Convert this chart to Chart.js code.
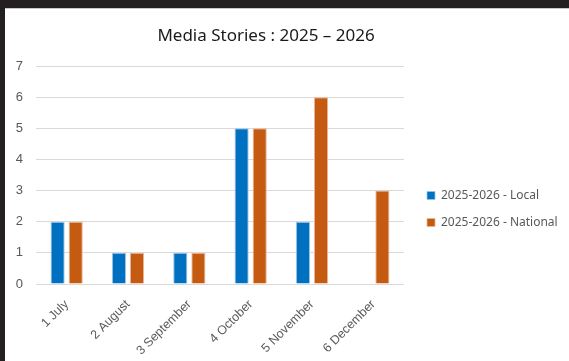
<!DOCTYPE html>
<html>
<head>
<meta charset="utf-8">
<script src="https://cdn.jsdelivr.net/npm/chart.js@4"></script>
<style>
    body { margin: 0; width: 569px; height: 361px; background: #fff; position: relative; overflow: hidden; }
    #marcoArriba { position: absolute; left: 0; top: 0; width: 569px; height: 8px; background: #231f20; border-bottom: 1px solid #c8c8c8; }
    #marcoIzq { position: absolute; left: 0; top: 0; width: 5px; height: 361px; background: #231f20; }
    #caja { position: absolute; left: 5px; top: 9px; width: 564px; height: 352px; }
</style>
</head>
<body>
<div id="marcoArriba"></div>
<div id="marcoIzq"></div>
<div id="caja"><canvas id="graficaMedios"></canvas></div>
<script>
"use strict";
const meses = ["1 July", "2 August", "3 September", "4 October", "5 November", "6 December"];
const locales = [2, 1, 1, 5, 2, null];
const nacionales = [2, 1, 1, 5, 6, 3];
const ticksY = [0, 1, 2, 3, 4, 5, 6, 7];

/* LEYENDA: ancho fijo y posición a mano */
const ajusteLeyenda = {
    id: "ajusteLeyenda",
    afterInit(chart) {
        const leyenda = chart.legend;
        if (!leyenda)
            return;
        const fitOriginal = leyenda.fit;
        leyenda.fit = function () {
            fitOriginal.call(this);
            this.width = 123;
        };
    },
    afterLayout(chart) {
        const leyenda = chart.legend;
        if (!leyenda)
            return;
        const alto = leyenda.bottom - leyenda.top;
        leyenda.left = 407;
        leyenda.width = 155;
        leyenda.right = leyenda.left + leyenda.width;
        leyenda.top = 165.5;
        leyenda.bottom = leyenda.top + alto;
    }
};

/* GRÁFICA */
function inicializarGrafica() {
    const canvas = document.getElementById("graficaMedios");
    new Chart(canvas, {
        type: "bar",
        data: {
            labels: meses,
            datasets: [
                {
                    label: "2025-2026 - Local",
                    data: locales,
                    backgroundColor: "#0070c0",
                    borderColor: "#9cc3e6",
                    borderWidth: { left: 1, right: 1, top: 1 },
                    categoryPercentage: 0.59,
                    barPercentage: 0.78
                },
                {
                    label: "2025-2026 - National",
                    data: nacionales,
                    backgroundColor: "#c55a11",
                    borderColor: "#eab59a",
                    borderWidth: { left: 1, right: 1, top: 1 },
                    categoryPercentage: 0.59,
                    barPercentage: 0.78
                }
            ]
        },
        plugins: [ajusteLeyenda],
        options: {
            responsive: true,
            maintainAspectRatio: false,
            animation: false,
            layout: { padding: { left: 0, right: 42, top: 0, bottom: 0 } },
            plugins: {
                title: {
                    display: true,
                    text: "Media Stories : 2025 \u2013 2026",
                    color: "#1a1a1a",
                    font: { family: "Noto Sans", size: 17, weight: "normal" },
                    padding: { top: 16.5, bottom: 20.1 }
                },
                legend: {
                    position: "right",
                    align: "start",
                    labels: {
                        color: "#595959",
                        font: { family: "Noto Sans", size: 12 },
                        boxWidth: 8,
                        boxHeight: 8,
                        padding: 15
                    }
                },
                tooltip: { enabled: false }
            },
            scales: {
                x: {
                    afterFit: eje => { eje.height = 77; },
                    grid: { display: false },
                    border: { display: false },
                    ticks: {
                        color: "#595959",
                        font: { family: "Liberation Sans", size: 12.5 },
                        minRotation: 45,
                        maxRotation: 45,
                        padding: 5
                    }
                },
                y: {
                    min: 0,
                    max: 7,
                    afterFit: eje => { eje.width = 31; },
                    afterBuildTicks: eje => {
                        eje.ticks = ticksY.map(v => ({ value: v }));
                    },
                    grid: { color: "#d9d9d9", drawTicks: false },
                    border: { display: false },
                    ticks: {
                        color: "#595959",
                        font: { family: "Liberation Sans", size: 13 },
                        padding: 13
                    }
                }
            }
        }
    });
}

document.addEventListener("DOMContentLoaded", () => {
    inicializarGrafica();
});
</script>
</body>
</html>
